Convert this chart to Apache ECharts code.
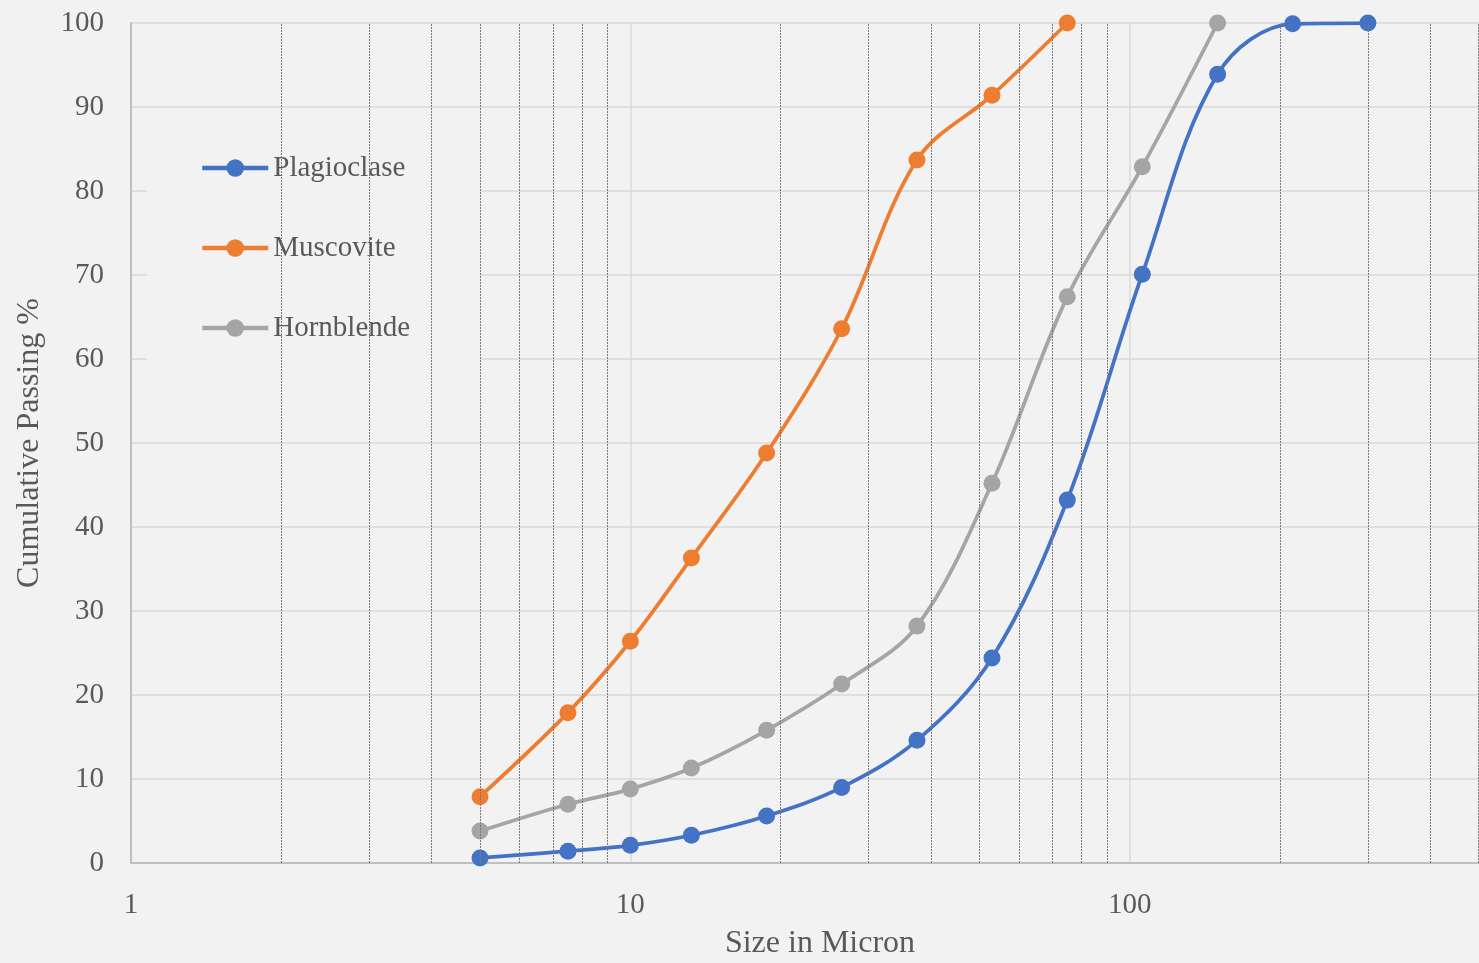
<!DOCTYPE html>
<html><head><meta charset="utf-8">
<script src="https://cdn.jsdelivr.net/npm/echarts@6/dist/echarts.min.js"></script>
<style>html,body{margin:0;padding:0;background:#f2f2f2;}#c{width:1479px;height:963px;}</style>
</head><body><div id="c"></div>
<script>
var plagioSizes = [5, 7.5, 10, 13.25, 18.75, 26.5, 37.5, 53, 75, 106, 150, 212, 300];
var plagioValues = [0.6, 1.4, 2.1, 3.3, 5.6, 9.0, 14.6, 24.4, 43.2, 70.1, 93.9, 99.9, 100];
var muscoSizes = [5, 7.5, 10, 13.25, 18.75, 26.5, 37.5, 53, 75];
var muscoValues = [7.9, 17.9, 26.4, 36.3, 48.8, 63.6, 83.7, 91.4, 100];
var hornSizes = [5, 7.5, 10, 13.25, 18.75, 26.5, 37.5, 53, 75, 106, 150];
var hornValues = [3.8, 7.0, 8.8, 11.3, 15.8, 21.3, 28.2, 45.2, 67.4, 82.9, 100];
var minorGrid = [2,3,4,5,6,7,8,9,20,30,40,50,60,70,80,90,200,300,400,500,600,700,800,900];
var seriesNames = ['Plagioclase', 'Muscovite', 'Hornblende'];

function pairs(xs, ys){ return xs.map(function(x,i){ return [x, ys[i]]; }); }
var font = '"Liberation Serif", "DejaVu Serif", serif';
var colors = ['#4472c4', '#ed7d31', '#a5a5a5'];
var datasets = [pairs(plagioSizes, plagioValues), pairs(muscoSizes, muscoValues), pairs(hornSizes, hornValues)];

var series = seriesNames.map(function(n, i){
  return {
    name: n, type: 'line', data: datasets[i], smooth: 0.35,
    symbol: 'circle', symbolSize: 17, z: 3,
    lineStyle: {width: 3.75, color: colors[i]},
    itemStyle: {color: colors[i]}
  };
});
series.push({
  type: 'line', data: [], z: 1, silent: true,
  markLine: {
    silent: true, symbol: 'none', label: {show: false},
    lineStyle: {color: '#7a7a7a', width: 1, type: [2, 1]},
    data: minorGrid.map(function(v){ return {xAxis: v}; })
  }
});

var chart = echarts.init(document.getElementById('c'));
chart.setOption({
  backgroundColor: '#f2f2f2',
  animation: false,
  grid: {left: 131, width: 1498, top: 23, height: 840, containLabel: false, outerBoundsMode: 'none'},
  legend: {
    data: seriesNames, orient: 'vertical', left: 147, top: 128,
    backgroundColor: '#f2f2f2', z: 5,
    padding: [25, 70, 31, 53], itemGap: 50, itemWidth: 66, itemHeight: 22,
    lineStyle: {width: 4.5},
    textStyle: {fontFamily: font, fontSize: 29, color: '#595959', lineHeight: 30}
  },
  xAxis: {
    type: 'log', logBase: 10, min: 1, max: 1000,
    name: 'Size in Micron', nameLocation: 'middle', nameGap: 65,
    nameTextStyle: {fontFamily: font, fontSize: 32, color: '#595959', padding: [0, 120, 0, 0]},
    axisLine: {show: true, lineStyle: {color: '#bfbfbf', width: 2}},
    axisTick: {show: false},
    axisLabel: {fontFamily: font, fontSize: 29, color: '#595959', margin: 28},
    splitLine: {show: true, lineStyle: {color: '#d9d9d9', width: 1.5}}
  },
  yAxis: {
    type: 'value', min: 0, max: 100, interval: 10,
    name: 'Cumulative Passing %', nameLocation: 'middle', nameGap: 85, nameRotate: 90,
    nameTextStyle: {fontFamily: font, fontSize: 32, color: '#595959'},
    axisLine: {show: true, lineStyle: {color: '#bfbfbf', width: 2}},
    axisTick: {show: false},
    axisLabel: {fontFamily: font, fontSize: 29, color: '#595959', margin: 27},
    splitLine: {show: true, lineStyle: {color: '#d9d9d9', width: 1.5}}
  },
  series: series
});
</script></body></html>
